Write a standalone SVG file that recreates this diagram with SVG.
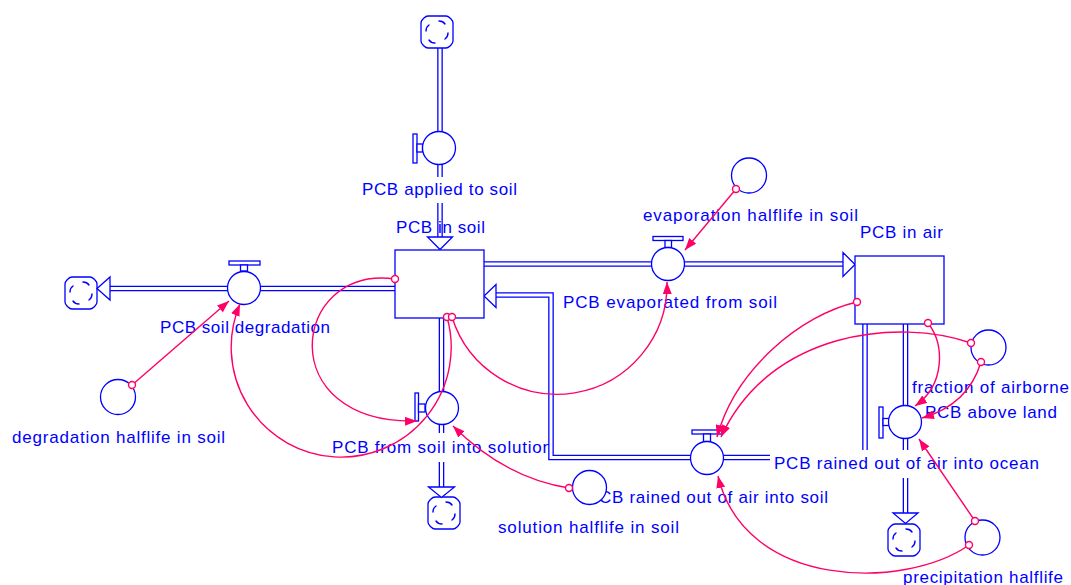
<svg xmlns="http://www.w3.org/2000/svg" xmlns:xlink="http://www.w3.org/1999/xlink" width="1071" height="585" viewBox="0 0 1071 585">
<style>
.pipe-o{fill:none;stroke:#0000ff;stroke-width:5.6;stroke-linejoin:miter}
.pipe-i{fill:none;stroke:#ffffff;stroke-width:3;stroke-linejoin:miter}
.shape{fill:#ffffff;stroke:#0000ff;stroke-width:1.3}
.mark{fill:none;stroke:#0000ff;stroke-width:1.4;stroke-linecap:round}
.lbl{font-family:"Liberation Sans",Arial,sans-serif;font-size:17px;fill:#0000ff}
.link{fill:none;stroke:#ff0066;stroke-width:1.4;marker-end:url(#ah)}
.org{fill:#ffffff;stroke:#ff0066;stroke-width:1.4}
</style>
<defs>
  <marker id="ah" viewBox="0 0 12 9" refX="12" refY="4.5" markerWidth="12" markerHeight="9" markerUnits="userSpaceOnUse" orient="auto">
    <path d="M0,0 L12,4.5 L0,9 Z" fill="#ff0066"/>
  </marker>
  <g id="cloud">
    <path class="shape" d="M-9,-16 H9 Q11,-16 13,-14 L14,-13 Q16,-11 16,-9 V9 Q16,11 14,13 L13,14 Q11,16 9,16 H-9 Q-11,16 -13,14 L-14,13 Q-16,11 -16,9 V-9 Q-16,-11 -14,-13 L-13,-14 Q-11,-16 -9,-16 Z"/>
    <path class="mark" d="M-11,-1 q0,-4 3,-6 M2,-11 q4,0 6,3 M11,1 q0,4 -3,6 M-2,11 q-4,0 -6,-3"/>
  </g>
  <!-- pipe centre lines -->
  <path id="p-apply-a" d="M440,48 V177"/>
  <path id="p-apply-b" d="M440,203 V237"/>
  <path id="p-degr" d="M395,288.5 H110"/>
  <path id="p-evap" d="M484,264 H843"/>
  <path id="p-sol-a" d="M441.5,318 V433"/>
  <path id="p-sol-b" d="M441.5,462 V487"/>
  <path id="p-rsoil-a" d="M865,324 V450"/>
  <path id="p-rsoil-b" d="M770,457.5 H551 V295 H496"/>
  <path id="p-ocean-a" d="M905.5,324 V450"/>
  <path id="p-ocean-b" d="M905.5,478 V513"/>
</defs>

<!-- flow: PCB applied to soil -->
<g id="flow-applied">
  <use href="#p-apply-a" class="pipe-o"/><use href="#p-apply-a" class="pipe-i"/>
  <use href="#p-apply-b" class="pipe-o"/><use href="#p-apply-b" class="pipe-i"/>
  <use href="#cloud" x="437" y="32"/>
  <polygon class="shape" points="427.5,237 452.5,237 440,249.5"/>
  <rect class="shape" x="413" y="134" width="4" height="29"/>
  <rect class="shape" x="417" y="144" width="5.5" height="8"/>
  <circle class="shape" cx="439" cy="148" r="16.5"/>
  <text class="lbl" x="362" y="195" textLength="155">PCB applied to soil</text>
</g>

<!-- flow: PCB soil degradation -->
<g id="flow-degradation">
  <use href="#p-degr" class="pipe-o"/><use href="#p-degr" class="pipe-i"/>
  <use href="#cloud" x="81" y="293"/>
  <polygon class="shape" points="110,277 110,300 97,288.5"/>
  <rect class="shape" x="229" y="261" width="31" height="4"/>
  <rect class="shape" x="240.5" y="265" width="7" height="6"/>
  <circle class="shape" cx="244" cy="288" r="16.5"/>
  <text class="lbl" x="160" y="333" textLength="170">PCB soil degradation</text>
</g>

<!-- flow: PCB evaporated from soil -->
<g id="flow-evaporated">
  <use href="#p-evap" class="pipe-o"/><use href="#p-evap" class="pipe-i"/>
  <polygon class="shape" points="843,252.5 843,276.5 855,264.5"/>
  <rect class="shape" x="653" y="236.5" width="30" height="4"/>
  <rect class="shape" x="665" y="240.5" width="6.5" height="7"/>
  <circle class="shape" cx="668" cy="264" r="16.5"/>
  <text class="lbl" x="563" y="308" textLength="214">PCB evaporated from soil</text>
</g>

<!-- flow: PCB from soil into solution -->
<g id="flow-solution">
  <use href="#p-sol-a" class="pipe-o"/><use href="#p-sol-a" class="pipe-i"/>
  <use href="#p-sol-b" class="pipe-o"/><use href="#p-sol-b" class="pipe-i"/>
  <use href="#cloud" x="444" y="513"/>
  <polygon class="shape" points="428.5,487 454.5,487 441.5,497.5"/>
  <rect class="shape" x="415" y="393" width="3.5" height="28"/>
  <rect class="shape" x="418.5" y="404" width="6.5" height="8"/>
  <circle class="shape" cx="442" cy="408" r="16.5"/>
  <text class="lbl" x="332" y="453" textLength="220">PCB from soil into solution</text>
</g>

<!-- flow: PCB rained out of air into soil -->
<g id="flow-rained-soil">
  <use href="#p-rsoil-a" class="pipe-o"/><use href="#p-rsoil-a" class="pipe-i"/>
  <use href="#p-rsoil-b" class="pipe-o"/><use href="#p-rsoil-b" class="pipe-i"/>
  <polygon class="shape" points="496,284.5 496,307.5 484,296"/>
  <rect class="shape" x="692" y="430" width="30" height="4"/>
  <rect class="shape" x="703.5" y="434" width="7" height="7.5"/>
  <circle class="shape" cx="707" cy="458" r="16.5"/>
  <text class="lbl" x="587" y="503" textLength="241">PCB rained out of air into soil</text>
</g>

<!-- flow: PCB rained out of air into ocean -->
<g id="flow-rained-ocean">
  <use href="#p-ocean-a" class="pipe-o"/><use href="#p-ocean-a" class="pipe-i"/>
  <use href="#p-ocean-b" class="pipe-o"/><use href="#p-ocean-b" class="pipe-i"/>
  <use href="#cloud" x="904" y="540"/>
  <polygon class="shape" points="893,513 918,513 905.5,523.5"/>
  <rect class="shape" x="879" y="407" width="4" height="31"/>
  <rect class="shape" x="883" y="418.5" width="6" height="7"/>
  <circle class="shape" cx="905" cy="422" r="16.5"/>
  <text class="lbl" x="774" y="469" textLength="265">PCB rained out of air into ocean</text>
</g>

<!-- stocks -->
<g id="stock-soil">
  <rect class="shape" x="395" y="250" width="89" height="68"/>
  <text class="lbl" x="396" y="233" textLength="89">PCB in soil</text>
</g>
<g id="stock-air">
  <rect class="shape" x="855" y="256" width="89" height="68"/>
  <text class="lbl" x="860" y="238" textLength="83">PCB in air</text>
</g>

<!-- auxiliaries -->
<g id="aux-degradation-halflife">
  <circle class="shape" cx="118" cy="397" r="17.5"/>
  <text class="lbl" x="12" y="443" textLength="213">degradation halflife in soil</text>
</g>
<g id="aux-evaporation-halflife">
  <circle class="shape" cx="749" cy="175.5" r="17.5"/>
  <text class="lbl" x="643" y="221" textLength="215">evaporation halflife in soil</text>
</g>
<g id="aux-solution-halflife">
  <circle class="shape" cx="589.5" cy="487.5" r="17"/>
  <text class="lbl" x="498" y="533" textLength="181">solution halflife in soil</text>
</g>
<g id="aux-fraction-above-land">
  <circle class="shape" cx="988.5" cy="347.5" r="17.5"/>
  <text class="lbl" x="912" y="393" textLength="157">fraction of airborne</text>
  <text class="lbl" x="925" y="418" textLength="132">PCB above land</text>
</g>
<g id="aux-precipitation-halflife">
  <circle class="shape" cx="982.5" cy="537.5" r="17.5"/>
  <text class="lbl" x="903" y="583" textLength="160">precipitation halflife</text>
</g>

<!-- information links -->
<g id="connectors">
  <path class="link" d="M132,385 L229,301"/>
  <path class="link" d="M447,317 A110,110 0 1 1 240,304"/>
  <path class="link" d="M395,279 C290,265 272,425 417,421"/>
  <path class="link" d="M452,317 A110,110 0 0 0 667,282"/>
  <path class="link" d="M736,189 L685,250"/>
  <path class="link" d="M569,488 Q505,478 453,426"/>
  <path class="link" d="M857,302 C800,315 735,370 717,437"/>
  <path class="link" d="M971,343 C900,318 770,330 721,437"/>
  <path class="link" d="M928,323 C945,345 945,385 915,406"/>
  <path class="link" d="M981,362 Q968,405 922,418"/>
  <path class="link" d="M975,521 L919,439"/>
  <path class="link" d="M969,545 C905,590 745,590 718,476"/>
  <circle class="org" cx="132" cy="385" r="3.5"/>
  <circle class="org" cx="447" cy="317" r="3.5"/>
  <circle class="org" cx="395" cy="279" r="3.5"/>
  <circle class="org" cx="452" cy="317" r="3.5"/>
  <circle class="org" cx="736" cy="189" r="3.5"/>
  <circle class="org" cx="569" cy="488" r="3.5"/>
  <circle class="org" cx="857" cy="302" r="3.5"/>
  <circle class="org" cx="971" cy="343" r="3.5"/>
  <circle class="org" cx="928" cy="323" r="3.5"/>
  <circle class="org" cx="981" cy="362" r="3.5"/>
  <circle class="org" cx="975" cy="521" r="3.5"/>
  <circle class="org" cx="969" cy="545" r="3.5"/>
</g>
</svg>
